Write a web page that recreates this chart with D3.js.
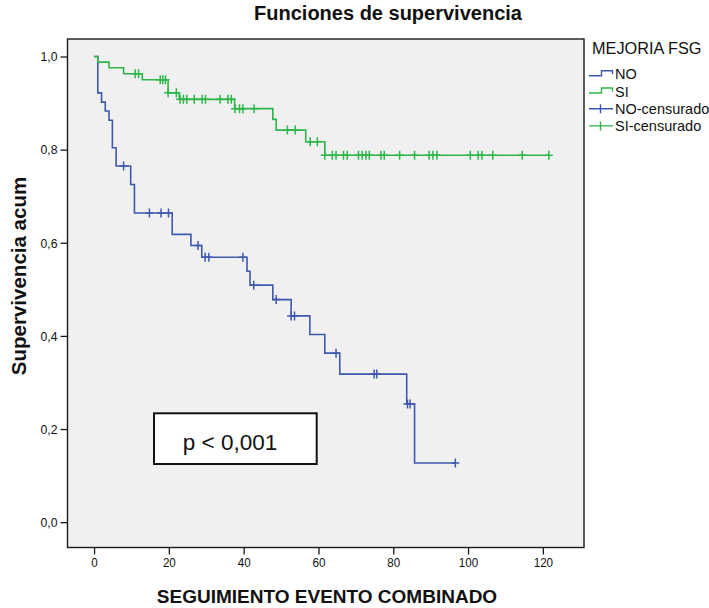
<!DOCTYPE html>
<html>
<head>
<meta charset="utf-8">
<script src="https://cdn.jsdelivr.net/npm/d3@7"></script>
<style>
  html, body { margin: 0; padding: 0; background: #ffffff; }
  svg text { font-family: "Liberation Sans", Arial, sans-serif; fill: #111; }
</style>
</head>
<body>
<svg id="chart" width="709" height="608"></svg>
<script>
// Kaplan-Meier estimates by group (time in months, cumulative survival)
const noTimes    = [1.0, 2.0, 3.0, 4.0, 4.9, 5.9, 9.8, 10.8, 20.9, 25.9, 28.8, 40.9, 41.7, 47.8, 52.7, 57.7, 61.7, 65.7, 83.6, 85.7];
const noSurv     = [0.922, 0.902, 0.883, 0.863, 0.804, 0.765, 0.725, 0.664, 0.618, 0.594, 0.569, 0.539, 0.509, 0.478, 0.443, 0.403, 0.363, 0.318, 0.254, 0.127];
const noCensored = [7.9, 14.8, 17.9, 19.9, 27.8, 29.7, 30.7, 39.8, 42.7, 48.7, 52.7, 53.6, 64.7, 74.9, 75.6, 83.8, 84.5, 96.6];

const siTimes    = [1.0, 4.0, 7.9, 12.9, 19.8, 22.8, 37.6, 47.8, 48.7, 56.6, 61.7];
const siSurv     = [0.988, 0.976, 0.963, 0.950, 0.922, 0.908, 0.888, 0.865, 0.842, 0.817, 0.788];
const siCensored = [11.0, 11.9, 17.7, 18.4, 19.1, 19.8, 22.0, 23.0, 23.9, 24.8, 26.8, 28.9, 29.8, 33.7, 35.8, 36.7,
                    37.7, 38.9, 39.8, 42.8, 51.7, 53.8, 57.8, 59.7, 61.7, 63.7, 64.7, 66.7, 67.7, 70.7, 71.7, 72.7,
                    73.6, 76.7, 77.6, 81.7, 85.7, 89.6, 90.6, 91.7, 100.6, 102.7, 103.7, 106.6, 114.5, 121.6];

const xTicks = [0, 20, 40, 60, 80, 100, 120];
const yTicks = [0, 0.2, 0.4, 0.6, 0.8, 1.0];

const groups = [
  { name: "NO", times: noTimes, surv: noSurv, censored: noCensored, color: "#3E58AC" },
  { name: "SI", times: siTimes, surv: siSurv, censored: siCensored, color: "#2DB54A" }
];

const svg = d3.select("#chart");
const box = { left: 67.5, right: 584, top: 39, bottom: 547.5 };

const x = d3.scaleLinear().domain([-7.1, 131.0]).range([box.left, box.right]);
const y = d3.scaleLinear().domain([-0.0544, 1.0376]).range([box.bottom, box.top]);

// plot frame
svg.append("rect")
  .attr("x", box.left).attr("y", box.top)
  .attr("width", box.right - box.left).attr("height", box.bottom - box.top)
  .attr("fill", "#F0F0F0").attr("stroke", "#1a1a1a").attr("stroke-width", 1.4);

// condense tick labels slightly
function condense(sel, f) {
  sel.each(function () {
    const w = this.getComputedTextLength();
    d3.select(this).attr("textLength", w * f).attr("lengthAdjust", "spacingAndGlyphs");
  });
}

// x axis
const gx = svg.append("g").attr("transform", `translate(0,${box.bottom})`)
  .call(d3.axisBottom(x).tickValues(xTicks).tickSize(7).tickSizeOuter(0).tickFormat(d3.format("d")));
gx.select(".domain").remove();
gx.selectAll(".tick line").attr("stroke", "#1a1a1a").attr("stroke-width", 1.3);
gx.selectAll(".tick text").attr("font-size", 13.5).attr("font-family", "Liberation Sans, Arial, sans-serif")
  .attr("fill", "#111").attr("y", 10).attr("dy", "0.71em").call(condense, 0.86);

// y axis
const gy = svg.append("g").attr("transform", `translate(${box.left},0)`)
  .call(d3.axisLeft(y).tickValues(yTicks).tickSize(7).tickSizeOuter(0)
    .tickFormat(d => d.toFixed(1).replace(".", ",")));
gy.select(".domain").remove();
gy.selectAll(".tick line").attr("stroke", "#1a1a1a").attr("stroke-width", 1.3);
gy.selectAll(".tick text").attr("font-size", 13.5).attr("font-family", "Liberation Sans, Arial, sans-serif")
  .attr("fill", "#111").attr("x", -10).call(condense, 0.9);

// survival step curves
function stepPoints(g) {
  const pts = [[0, 1]];
  g.times.forEach((t, i) => pts.push([t, g.surv[i]]));
  const tEnd = d3.max(g.censored.concat(g.times));
  pts.push([tEnd, g.surv[g.surv.length - 1]]);
  return pts;
}
function survAt(g, t) {
  let s = 1;
  g.times.forEach((ti, i) => { if (ti <= t) s = g.surv[i]; });
  return s;
}
const line = d3.line().x(d => x(d[0])).y(d => y(d[1])).curve(d3.curveStepAfter);

groups.forEach(g => {
  const layer = svg.append("g");
  layer.append("path")
    .attr("d", line(stepPoints(g)))
    .attr("fill", "none").attr("stroke", g.color).attr("stroke-width", 1.6);
  layer.selectAll("path.cens").data(g.censored).join("path")
    .attr("class", "cens")
    .attr("d", t => {
      const cx = x(t), cy = y(survAt(g, t));
      return `M${cx - 4},${cy}H${cx + 4}M${cx},${cy - 4.5}V${cy + 4.5}`;
    })
    .attr("fill", "none").attr("stroke", g.color).attr("stroke-width", 1.5);
});

// titles
svg.append("text").attr("x", 388).attr("y", 20).attr("text-anchor", "middle")
  .attr("font-size", 20).attr("font-weight", "bold").text("Funciones de supervivencia");
svg.append("text").attr("x", 327).attr("y", 603).attr("text-anchor", "middle")
  .attr("font-size", 19).attr("font-weight", "bold").text("SEGUIMIENTO EVENTO COMBINADO");
svg.append("text").attr("transform", "translate(26,276) rotate(-90)").attr("text-anchor", "middle")
  .attr("font-size", 20.5).attr("font-weight", "bold").text("Supervivencia acum");

// legend
const legend = svg.append("g");
legend.append("text").attr("x", 592).attr("y", 54).attr("font-size", 16.3).text("MEJORIA FSG");
const legendRows = [
  { label: "NO", color: groups[0].color, kind: "step" },
  { label: "SI", color: groups[1].color, kind: "step" },
  { label: "NO-censurado", color: groups[0].color, kind: "cens" },
  { label: "SI-censurado", color: groups[1].color, kind: "cens" }
];
legendRows.forEach((r, i) => {
  const cy = 74.3 + i * 17.2;
  const sym = r.kind === "step"
    ? `M589,${cy + 1.5}H601.5V${cy - 3.5}H612.5V${cy}`
    : `M589,${cy}H613M600.5,${cy - 4.5}V${cy + 4.5}`;
  legend.append("path").attr("d", sym).attr("fill", "none")
    .attr("stroke", r.color).attr("stroke-width", 1.4);
  legend.append("text").attr("x", 615).attr("y", cy + 5).attr("font-size", 14.5).text(r.label);
});

// log-rank annotation
svg.append("rect").attr("x", 154).attr("y", 413.3).attr("width", 162.7).attr("height", 50.7)
  .attr("fill", "#ffffff").attr("stroke", "#111").attr("stroke-width", 2);
svg.append("text").attr("x", 230).attr("y", 450).attr("text-anchor", "middle")
  .attr("font-size", 22.5).text("p < 0,001");
</script>
</body>
</html>
